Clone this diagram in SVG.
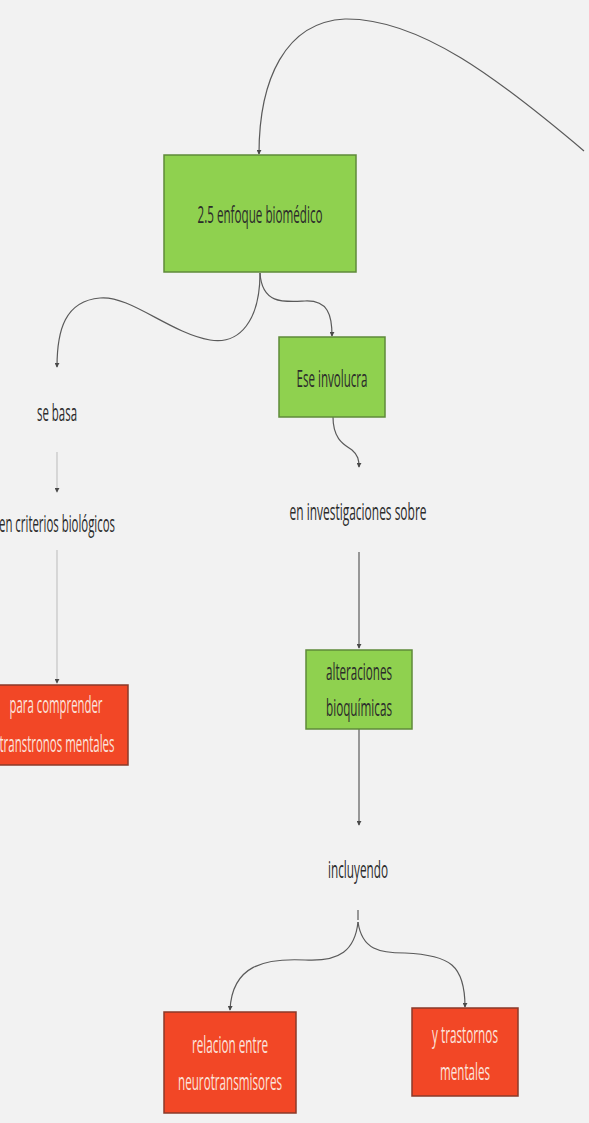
<svg xmlns="http://www.w3.org/2000/svg" width="589" height="1123" viewBox="0 0 589 1123">
<style>
.lbl{font-family:"Open Sans","Liberation Sans",sans-serif;font-size:23.5px;fill:#2b2b2b;text-anchor:middle}
.wt{fill:#fbe3dc}
.green{fill:#8fd14f;stroke:#5f8a3a;stroke-width:1.5}
.red{fill:#f24726;stroke:#8a3a2a;stroke-width:1.5}
.c{fill:none;stroke:#5a5a5a;stroke-width:1.2}
.cl{fill:none;stroke:#c4c4c4;stroke-width:1.2}
</style>
<defs>
<marker id="ah" viewBox="0 0 6 6" refX="5" refY="3" markerWidth="5" markerHeight="5" orient="auto" markerUnits="userSpaceOnUse">
<path d="M0,0 L6,3 L0,6 z" fill="#4a4a4a"/>
</marker>
</defs>
<rect width="589" height="1123" fill="#f2f2f2"/>
<g id="connectors">
<path class="c" d="M584 151 C500 80,420 18,345 19 C285 22,259 80,259 154" marker-end="url(#ah)"/>
<path class="c" d="M260 273 C260 320,240 345,210 340 C170 333,130 295,100 298 C65 301,57 330,57 367" marker-end="url(#ah)"/>
<path class="c" d="M260 273 C262 305,285 302,305 301 C328 300,332 315,332 336" marker-end="url(#ah)"/>
<path class="c" d="M333 417 C333 440,345 445,352 450 C358 455,359 460,359 467" marker-end="url(#ah)"/>
<path class="cl" d="M57 452 L57 492" marker-end="url(#ah)"/>
<path class="cl" d="M57 550 L57 683" marker-end="url(#ah)"/>
<path class="c" d="M359 552 L359 648" marker-end="url(#ah)"/>
<path class="c" d="M359 729 L359 825" marker-end="url(#ah)"/>
<path class="c" d="M358 910 L358 920"/>
<path class="c" d="M358 922 C355 950,340 962,305 960 C265 958,232 965,230 1010" marker-end="url(#ah)"/>
<path class="c" d="M358 922 C362 950,380 953,405 953 C450 955,465 965,465 1007" marker-end="url(#ah)"/>
</g>
<g id="n1"><rect class="green" x="164" y="155" width="192" height="117"/><text class="lbl" x="260" y="223" textLength="125" lengthAdjust="spacingAndGlyphs">2.5 enfoque biomédico</text></g>
<g id="n2"><rect class="green" x="279" y="337" width="106" height="80"/><text class="lbl" x="332" y="387" textLength="71" lengthAdjust="spacingAndGlyphs">Ese involucra</text></g>
<g id="n3"><text class="lbl" x="57" y="421" textLength="40" lengthAdjust="spacingAndGlyphs">se basa</text></g>
<g id="n4"><text class="lbl" x="57" y="532" textLength="116" lengthAdjust="spacingAndGlyphs">en criterios biológicos</text></g>
<g id="n5"><rect class="red" x="-14" y="685" width="142" height="80"/><text class="lbl wt" x="56" y="713" textLength="93" lengthAdjust="spacingAndGlyphs">para comprender</text><text class="lbl wt" x="57" y="752" textLength="115" lengthAdjust="spacingAndGlyphs">transtronos mentales</text></g>
<g id="n6"><text class="lbl" x="358" y="520" textLength="137" lengthAdjust="spacingAndGlyphs">en  investigaciones sobre</text></g>
<g id="n7"><rect class="green" x="306" y="650" width="106" height="79"/><text class="lbl" x="359" y="680" textLength="66" lengthAdjust="spacingAndGlyphs">alteraciones</text><text class="lbl" x="359" y="716" textLength="66" lengthAdjust="spacingAndGlyphs">bioquímicas</text></g>
<g id="n8"><text class="lbl" x="358" y="878" textLength="60" lengthAdjust="spacingAndGlyphs">incluyendo</text></g>
<g id="n9"><rect class="red" x="164" y="1012" width="132" height="101"/><text class="lbl wt" x="230" y="1053" textLength="76" lengthAdjust="spacingAndGlyphs">relacion entre</text><text class="lbl wt" x="230" y="1090" textLength="104" lengthAdjust="spacingAndGlyphs">neurotransmisores</text></g>
<g id="n10"><rect class="red" x="412" y="1008" width="106" height="88"/><text class="lbl wt" x="465" y="1043" textLength="66" lengthAdjust="spacingAndGlyphs">y trastornos</text><text class="lbl wt" x="465" y="1080" textLength="50" lengthAdjust="spacingAndGlyphs">mentales</text></g>
</svg>
